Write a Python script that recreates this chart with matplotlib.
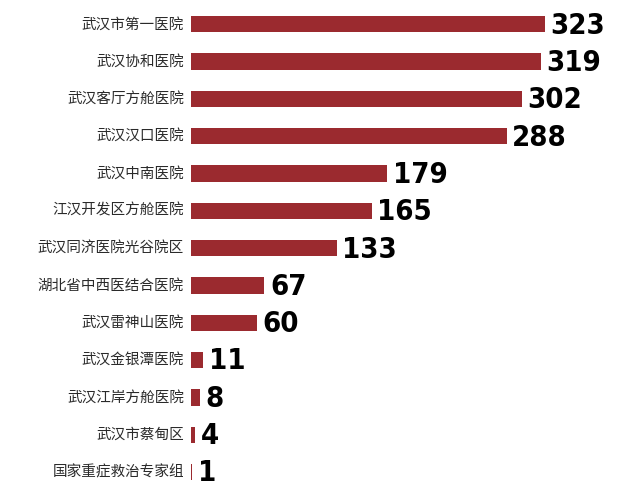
import matplotlib
matplotlib.use("Agg")
import matplotlib.pyplot as plt

hospitals = ["武汉市第一医院", "武汉协和医院", "武汉客厅方舱医院", "武汉汉口医院",
             "武汉中南医院", "江汉开发区方舱医院", "武汉同济医院光谷院区",
             "湖北省中西医结合医院", "武汉雷神山医院", "武汉金银潭医院",
             "武汉江岸方舱医院", "武汉市蔡甸区", "国家重症救治专家组"]
counts = [323, 319, 302, 288, 179, 165, 133, 67, 60, 11, 8, 4, 1]

plt.rcParams['font.family'] = ['Noto Sans CJK SC', 'DejaVu Sans']

fig = plt.figure(figsize=(6.41, 4.96), dpi=100)
ax = fig.add_axes([191 / 641, 0.0107, 0.682, 0.978])

pos = list(range(len(hospitals)))
ax.barh(pos, counts, height=0.44, color="#9b2a2f")
ax.set_ylim(len(hospitals) - 0.5, -0.5)
ax.set_xlim(0, 399)

for y, name, v in zip(pos, hospitals, counts):
    ax.annotate(name, (0, y), xytext=(-5, 0), textcoords="offset points",
                ha="right", va="center", fontsize=10.5, color="#2a2a2a")
    ax.annotate(str(v), (v, y), xytext=(4, -1), textcoords="offset points",
                ha="left", va="center", fontsize=21, fontweight="bold",
                family="DejaVu Sans", fontstretch="condensed", color="black")

ax.axis("off")
fig.savefig("out.png", dpi=100)
